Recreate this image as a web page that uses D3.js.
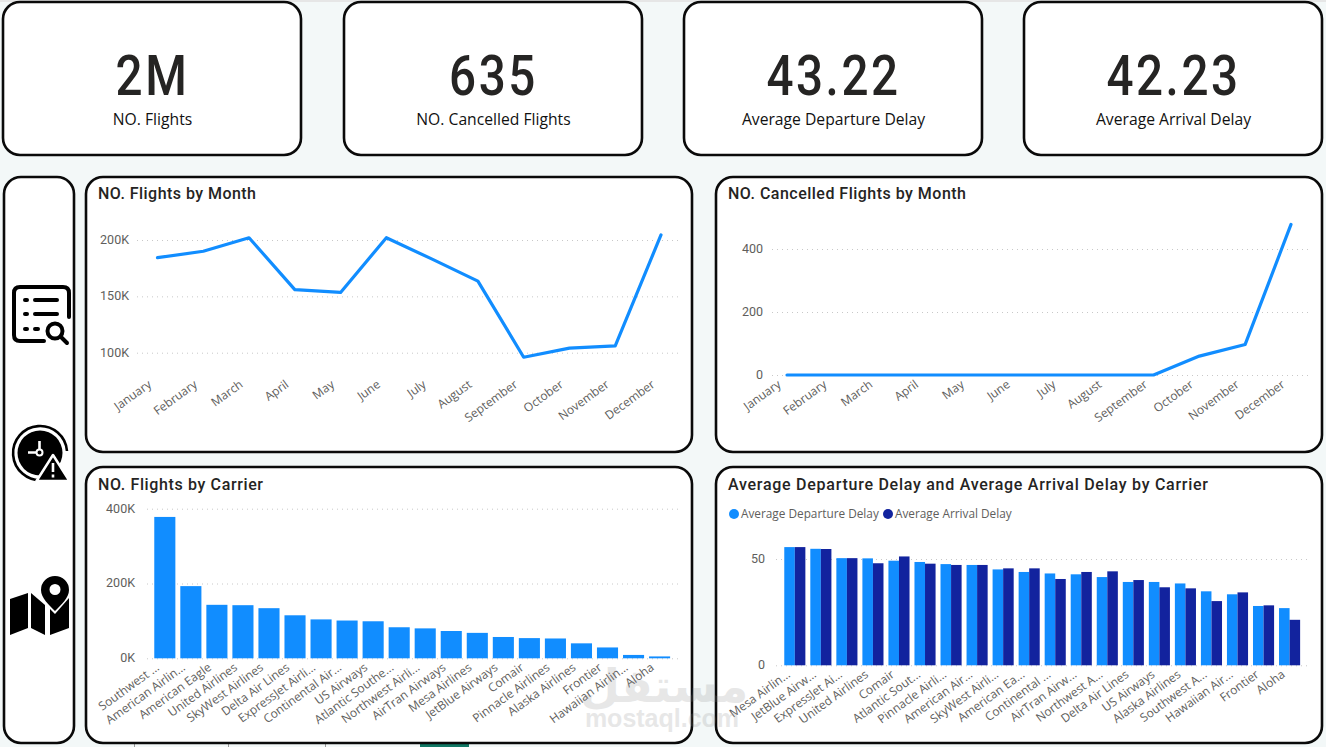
<!DOCTYPE html>
<html>
<head>
<meta charset="utf-8">
<script src="https://cdn.jsdelivr.net/npm/d3@7"></script>
<style>
  html, body { margin: 0; padding: 0; background: #f3f8f8; overflow: hidden; }
  svg { display: block; }
  .title { font-family: Roboto, sans-serif; font-weight: 500; font-size: 16px; fill: #252423; }
  .tick-label { font-family: "Open Sans", sans-serif; font-size: 12px; fill: #605e5c; }
  .legend-label { font-family: "Open Sans", sans-serif; font-size: 11.8px; fill: #605e5c; }
  .value-label { font-family: Roboto, sans-serif; font-size: 12.5px; fill: #605e5c; }
  .kpi-value { font-family: Roboto, sans-serif; font-weight: 500; font-size: 56px; fill: #252423; text-anchor: middle; }
  .kpi-name { font-family: "Open Sans", sans-serif; font-size: 15.7px; fill: #111; text-anchor: middle; }
  .grid line { stroke: #c8c8c8; stroke-dasharray: 1 4; }
  .panel { fill: #fff; stroke: #0a0a0a; stroke-width: 2.6; }
</style>
</head>
<body>
<svg id="chart" width="1326" height="747"></svg>
<script>
// Headline figures
const kpiValues = ["2M", "635", "43.22", "42.23"];
const kpiNames = ["NO. Flights", "NO. Cancelled Flights", "Average Departure Delay", "Average Arrival Delay"];

// Monthly series
const months = ["January", "February", "March", "April", "May", "June", "July", "August", "September", "October", "November", "December"];
const flightsByMonth = [184300, 190000, 202000, 156000, 153500, 202000, 183000, 163500, 96000, 104000, 106000, 204500];
const cancelledByMonth = [0, 0, 0, 0, 0, 0, 0, 0, 0, 60, 97, 478];

// Carrier series, ordered by flights
const flightCarriers = ["Southwest ...", "American Airlin...", "American Eagle", "United Airlines", "SkyWest Airlines", "Delta Air Lines", "ExpressJet Airli...", "Continental Air...", "US Airways", "Atlantic Southe...", "Northwest Airli...", "AirTran Airways", "Mesa Airlines", "JetBlue Airways", "Comair", "Pinnacle Airlines", "Alaska Airlines", "Frontier", "Hawaiian Airlin...", "Aloha"];
const flightsByCarrier = [378000, 193000, 143000, 142000, 134000, 115000, 104000, 101000, 99000, 83000, 80000, 73000, 68000, 57000, 54000, 53000, 40000, 29000, 9000, 5000];

// Carrier delay series, ordered by departure delay
const delayCarriers = ["Mesa Airlin...", "JetBlue Airw...", "ExpressJet Ai...", "United Airlines", "Comair", "Atlantic Sout...", "Pinnacle Airli...", "American Air...", "SkyWest Airli...", "American Ea...", "Continental  ...", "AirTran Airw...", "Northwest A...", "Delta Air Lines", "US Airways", "Alaska Airlines", "Southwest A...", "Hawaiian Air...", "Frontier", "Aloha"];
const departureDelay = [55.6, 54.8, 50.4, 50.3, 49.2, 48.6, 47.6, 47.2, 45.1, 43.9, 43.2, 42.8, 41.5, 39.2, 39.2, 38.5, 34.8, 33.4, 27.9, 26.9];
const arrivalDelay = [55.6, 54.7, 50.4, 48.0, 51.2, 47.8, 47.2, 47.2, 45.6, 45.6, 40.6, 43.9, 44.2, 40.1, 36.7, 36.2, 30.2, 34.3, 28.2, 21.4];

const legendNames = ["Average Departure Delay", "Average Arrival Delay"];
const BLUE = "#118dff", NAVY = "#12239e";
const kFormat = v => (v / 1000) + "K";

const svg = d3.select("#chart");

// Page furniture: top shadow strip and the report tab fragments under the panels
svg.append("rect").attr("width", 1326).attr("height", 2).attr("fill", "#e6e6e6");
svg.append("rect").attr("x", 420).attr("y", 744).attr("width", 49).attr("height", 3).attr("fill", "#117865");
[134, 228, 325].forEach(x => svg.append("rect").attr("x", x).attr("y", 744).attr("width", 1).attr("height", 3).attr("fill", "#999"));

function card(x, y, w, h, r) {
  svg.append("rect").attr("class", "panel").attr("x", x).attr("y", y).attr("width", w).attr("height", h).attr("rx", r);
}

// KPI cards
const kpiX = [3, 344, 684, 1024];
kpiValues.forEach((v, i) => {
  card(kpiX[i], 2, 298, 153, 17);
  const cx = kpiX[i] + 149.5;
  svg.append("text").attr("class", "kpi-value")
    .attr("transform", `translate(${cx},95) scale(.85,1)`)
    .style("letter-spacing", "3px").text(v);
  svg.append("text").attr("class", "kpi-name").attr("x", cx).attr("y", 125).text(kpiNames[i]);
});

// Navigation rail
card(4, 177, 70, 566, 17);
svg.select("rect.panel:last-of-type").attr("stroke-width", 3);
drawIcons();

// Chart panels
card(86, 177, 606, 275, 17);
card(716, 177, 606, 275, 17);
card(86, 467, 606, 276, 17);
card(716, 467, 606, 276, 17);

function title(x, y, t, width) {
  svg.append("text").attr("class", "title").attr("x", x).attr("y", y)
    .attr("textLength", width).attr("lengthAdjust", "spacing").text(t);
}

function yAxis(scale, x0, x1, ticks, fmt) {
  const g = svg.append("g").attr("class", "grid").attr("transform", `translate(${x0},0)`)
    .call(d3.axisLeft(scale).tickValues(ticks).tickSize(x0 - x1).tickPadding(8).tickFormat(fmt));
  g.select(".domain").remove();
  g.selectAll("text").attr("class", "value-label").attr("fill", null).attr("dy", "0.27em");
}

function xLabels(scale, y, dx) {
  const g = svg.append("g").attr("transform", `translate(0,${y})`)
    .call(d3.axisBottom(scale).tickSize(0).tickPadding(0));
  g.select(".domain").remove();
  g.selectAll("text").attr("class", "tick-label").attr("fill", null)
    .attr("text-anchor", "end").attr("y", 0).attr("dy", "0.32em")
    .attr("transform", `translate(${dx},0) rotate(-36)`);
}

function lineChart(x0, x1, yDomain, yRange, ticks, fmt, values, gridL, gridR) {
  const x = d3.scalePoint().domain(months).range([x0, x1]);
  const y = d3.scaleLinear().domain(yDomain).range(yRange);
  yAxis(y, gridR, gridL, ticks, fmt);
  xLabels(x, 383, -8);
  svg.append("path").datum(values)
    .attr("fill", "none").attr("stroke", BLUE).attr("stroke-width", 3.2)
    .attr("stroke-linejoin", "round").attr("stroke-linecap", "round")
    .attr("d", d3.line().x((d, i) => x(months[i])).y(d => y(d)));
}

// NO. Flights by Month
title(98, 199, "NO. Flights by Month", 158);
lineChart(157.5, 661, [100000, 200000], [352.7, 240], [100000, 150000, 200000], kFormat, flightsByMonth, 137, 678);

// NO. Cancelled Flights by Month
title(728, 199, "NO. Cancelled Flights by Month", 238);
lineChart(787, 1291, [0, 400], [375, 249], [0, 200, 400], d3.format("d"), cancelledByMonth, 771, 1308);

// NO. Flights by Carrier
title(98, 490, "NO. Flights by Carrier", 165);
{
  const x = d3.scaleBand().domain(flightCarriers).range([151.8, 672.6]).paddingInner(.19).paddingOuter(.095);
  const y = d3.scaleLinear().domain([0, 400000]).range([658.3, 508.7]);
  yAxis(y, 678, 143, [0, 200000, 400000], kFormat);
  svg.append("g").selectAll("rect").data(flightsByCarrier).join("rect")
    .attr("x", (d, i) => x(flightCarriers[i])).attr("width", x.bandwidth())
    .attr("y", d => y(d)).attr("height", d => y(0) - y(d)).attr("fill", BLUE);
  xLabels(x, 666, -7);
}

// Average delays by Carrier
title(728, 490, "Average Departure Delay and Average Arrival Delay by Carrier", 480);
{
  const x = d3.scaleBand().domain(delayCarriers).range([781.8, 1302.6]).paddingInner(.19).paddingOuter(.095);
  const sub = d3.scaleBand().domain(legendNames).range([0, x.bandwidth()]);
  const y = d3.scaleLinear().domain([0, 50]).range([665.3, 559]);
  yAxis(y, 1307, 773, [0, 50], d3.format("d"));
  [departureDelay, arrivalDelay].forEach((series, s) => {
    svg.append("g").selectAll("rect").data(series).join("rect")
      .attr("x", (d, i) => x(delayCarriers[i]) + sub(legendNames[s])).attr("width", sub.bandwidth())
      .attr("y", d => y(d)).attr("height", d => y(0) - y(d)).attr("fill", s ? NAVY : BLUE);
  });
  xLabels(x, 673, -6);

  // Legend
  const legendX = [734, 888];
  legendNames.forEach((n, i) => {
    svg.append("circle").attr("cx", legendX[i]).attr("cy", 514).attr("r", 5).attr("fill", i ? NAVY : BLUE);
    svg.append("text").attr("class", "legend-label").attr("x", legendX[i] + 7).attr("y", 518).text(n);
  });
}

// Site watermark across the lower charts
svg.append("text").attr("x", 664).attr("y", 702).attr("text-anchor", "middle")
  .attr("font-family", "DejaVu Sans").attr("font-weight", "bold").attr("font-size", 46)
  .attr("fill", "#8a8a8a").attr("opacity", .2).text("مستقل");
svg.append("text").attr("x", 662).attr("y", 727).attr("text-anchor", "middle")
  .attr("font-family", "Liberation Sans").attr("font-weight", "bold").attr("font-size", 25)
  .attr("fill", "#8a8a8a").attr("opacity", .2).text("mostaql.com");

function drawIcons() {
  // Report list with magnifier
  const a = svg.append("g").attr("fill", "none").attr("stroke", "#000").attr("stroke-linecap", "round");
  a.append("path").attr("stroke-width", 4).attr("d", "M44 341 H20 Q14 341 14 335 V293 Q14 287 20 287 H63 Q69 287 69 293 V317");
  a.append("path").attr("stroke-width", 4).attr("d", "M25 300 H27 M35 300 H57 M25 314 H27 M35 314 H57 M25 329 H27 M35 329 H38");
  a.append("circle").attr("cx", 55).attr("cy", 331).attr("r", 7.5).attr("stroke-width", 4);
  a.append("path").attr("stroke-width", 4).attr("d", "M61 337 L67 343");

  // Clock with warning triangle
  const b = svg.append("g");
  b.append("path").attr("fill", "none").attr("stroke", "#000").attr("stroke-width", 2.6)
    .attr("d", "M42 480 A27 27 0 1 1 67 451");
  b.append("circle").attr("cx", 40).attr("cy", 453).attr("r", 22.5).attr("fill", "#000");
  b.append("path").attr("stroke", "#fff").attr("stroke-width", 2.6).attr("fill", "none").attr("d", "M39.5 441 V449 M28 452.5 H36");
  b.append("circle").attr("cx", 39.5).attr("cy", 452.5).attr("r", 3).attr("fill", "#000").attr("stroke", "#fff").attr("stroke-width", 2);
  b.append("path").attr("fill", "#000").attr("stroke", "#fff").attr("stroke-width", 2.5).attr("stroke-linejoin", "round")
    .attr("d", "M53 455 L69.5 481 H36.5 Z");
  b.append("path").attr("stroke", "#fff").attr("stroke-width", 2.6).attr("d", "M53 463 V472 M53 474.5 V477.5");

  // Folded map with location pin
  const c = svg.append("g").attr("fill", "#000");
  c.append("path").attr("d", "M10 599 L28 593 V628 L10 635 Z");
  c.append("path").attr("d", "M31 593 L45 605 V635 L31 628 Z");
  c.append("path").attr("d", "M50 609 L55 614 L69 598 V628 L50 635 Z");
  c.append("path").attr("fill-rule", "evenodd").attr("d", "M55 576 A14 14 0 0 1 69 590 C69 598 61 605 55 611 C49 605 41 598 41 590 A14 14 0 0 1 55 576 Z M55 584 A5.5 5.5 0 1 0 55 595 A5.5 5.5 0 1 0 55 584 Z");
}
</script>
</body>
</html>
